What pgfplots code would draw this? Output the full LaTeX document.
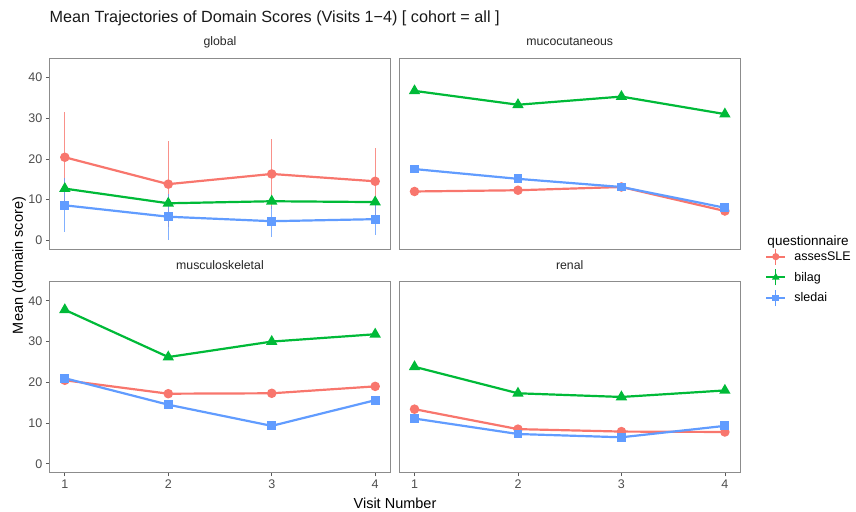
\documentclass[border=0pt]{standalone}
\usepackage{fontspec}
\setmainfont{Liberation Sans}
\usepackage{pgfplots}
\pgfplotsset{compat=1.18}
\usepackage{pgfplotstable}
\definecolor{cred}{HTML}{F8766D}
\definecolor{cgreen}{HTML}{00BA38}
\definecolor{cblue}{HTML}{619CFF}
\definecolor{tickcol}{HTML}{4D4D4D}

% global
\pgfplotstableread{
x y e
1 20.4 11.0
2 13.8 10.5
3 16.3 8.7
4 14.5 8.2
}\globred
\pgfplotstableread{
x y e
1 12.7 0
2 9.1 0
3 9.6 0
4 9.4 0
}\globgreen
\pgfplotstableread{
x y e
1 8.6 6.6
2 5.8 5.6
3 4.7 3.8
4 5.2 3.8
}\globblue
% mucocutaneous
\pgfplotstableread{
x y
1 12.0
2 12.3
3 13.1
4 7.2
}\mucred
\pgfplotstableread{
x y
1 36.7
2 33.3
3 35.3
4 31.0
}\mucgreen
\pgfplotstableread{
x y
1 17.5
2 15.1
3 13.1
4 8.0
}\mucblue
% musculoskeletal
\pgfplotstableread{
x y
1 20.5
2 17.2
3 17.3
4 19.0
}\musred
\pgfplotstableread{
x y
1 37.8
2 26.2
3 30.0
4 31.8
}\musgreen
\pgfplotstableread{
x y
1 21.0
2 14.5
3 9.3
4 15.6
}\musblue
% renal
\pgfplotstableread{
x y
1 13.4
2 8.5
3 7.9
4 7.8
}\renred
\pgfplotstableread{
x y
1 23.8
2 17.3
3 16.4
4 18.0
}\rengreen
\pgfplotstableread{
x y
1 11.1
2 7.3
3 6.5
4 9.3
}\renblue

\pgfplotsset{
  panel/.style={
    scale only axis, width=341.4pt, height=191pt,
    xmin=0.85, xmax=4.15, ymin=-2.2, ymax=44.7,
    axis line style={draw=black!45, line width=0.8pt},
    tick style={draw=black!65, line width=0.7pt},
    tick align=outside, major tick length=3.5pt,
    xtick={1,2,3,4}, ytick={0,10,20,30,40},
    xtick pos=bottom, ytick pos=left,
    /pgf/number format/assume math mode=true,
    ticklabel style={font=\fontsize{12.5}{13}\selectfont, text=tickcol},
    title style={font=\fontsize{12.3}{13}\selectfont, text=black!85, at={(0.5,1)}, anchor=base, yshift=6.5pt},
    clip=false,
  },
  sred/.style={color=cred, line width=2.2pt, mark=*, mark size=3.6pt, mark options={solid}},
  sgreen/.style={color=cgreen, line width=2.2pt, mark=triangle*, mark size=4.4pt, mark options={solid}},
  sblue/.style={color=cblue, line width=2.2pt, mark=square*, mark size=3.3pt, mark options={solid}},
  ebars/.style={error bars/.cd, y dir=both, y explicit, error mark=none, error bar style={line width=1.1pt, opacity=0.8}},
  legend image code/.code={
    \draw[#1, mark=none, line width=2.2pt] (0pt,0pt) -- (19pt,0pt);
    \draw[#1, mark=none, line width=1pt] (9.5pt,-8pt) -- (9.5pt,8pt);
    \draw[#1, line width=0pt, draw opacity=0] plot coordinates {(9.5pt,0pt)};
  },
}

\begin{document}
\begin{tikzpicture}
\useasboundingbox (0,0) rectangle (856pt,-511pt);

% global
\begin{axis}[panel, at={(49.3pt,-249.3pt)}, anchor=south west, title={global}, xticklabels={}, xtick=\empty]
\addplot[sred, ebars] table[x=x, y=y, y error=e] {\globred};
\addplot[sgreen] table[x=x, y=y] {\globgreen};
\addplot[sblue, ebars] table[x=x, y=y, y error=e] {\globblue};
\end{axis}

% mucocutaneous
\begin{axis}[panel, at={(399pt,-249.3pt)}, anchor=south west, title={mucocutaneous}, xtick=\empty, ytick=\empty,
  legend style={at={(1.072,0.007)}, anchor=north west, draw=none, fill=none,
    font=\fontsize{12.5}{13}\selectfont, row sep=3.7pt, column sep=6pt, inner sep=0pt},
  legend cell align=left]
\addplot[sred] table[x=x, y=y] {\mucred};
\addlegendentry{assesSLE}
\addplot[sgreen] table[x=x, y=y] {\mucgreen};
\addlegendentry{bilag}
\addplot[sblue] table[x=x, y=y] {\mucblue};
\addlegendentry{sledai}
\node[anchor=base west, font=\fontsize{13.5}{14}\selectfont, text=black] at (rel axis cs:1.069,0.0225) {questionnaire};
\end{axis}

% musculoskeletal
\begin{axis}[panel, at={(49.3pt,-472.7pt)}, anchor=south west, title={musculoskeletal}]
\addplot[sred] table[x=x, y=y] {\musred};
\addplot[sgreen] table[x=x, y=y] {\musgreen};
\addplot[sblue] table[x=x, y=y] {\musblue};
\end{axis}

% renal
\begin{axis}[panel, at={(399pt,-472.7pt)}, anchor=south west, title={renal}, ytick=\empty]
\addplot[sred] table[x=x, y=y] {\renred};
\addplot[sgreen] table[x=x, y=y] {\rengreen};
\addplot[sblue] table[x=x, y=y] {\renblue};
\end{axis}

% labels
\node[anchor=base west, font=\fontsize{16.2}{17}\selectfont, text=black!90] at (46pt,-23pt) {Mean Trajectories of Domain Scores (Visits 1\textminus 4) [ cohort = all ]};
\node[anchor=base, font=\fontsize{14.5}{15}\selectfont] at (395pt,-508pt) {Visit Number};
\node[anchor=base, rotate=90, font=\fontsize{14.5}{15}\selectfont] at (23pt,-265.5pt) {Mean (domain score)};
\end{tikzpicture}
\end{document}
